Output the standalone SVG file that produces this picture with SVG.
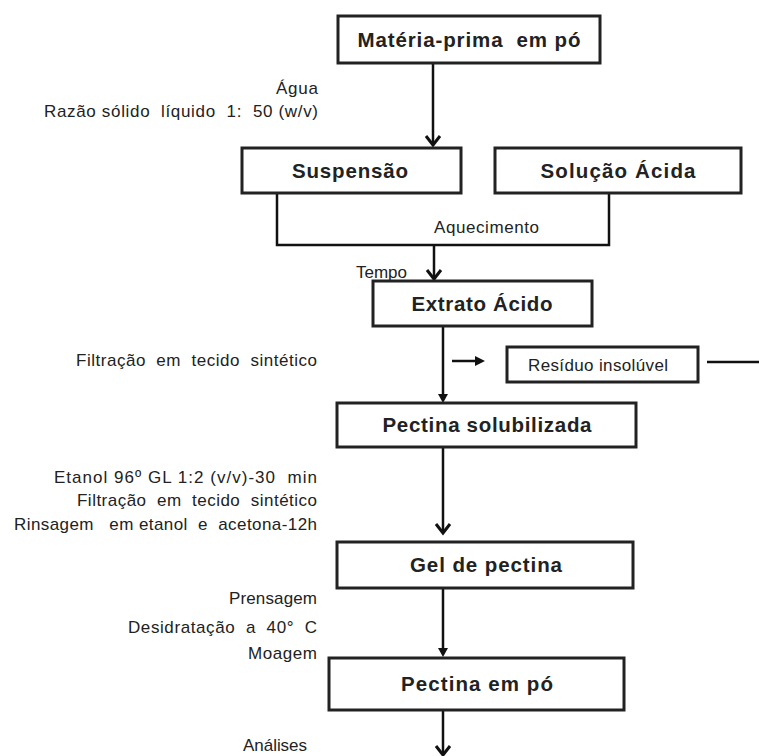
<svg xmlns="http://www.w3.org/2000/svg" width="759" height="756" viewBox="0 0 759 756">
<style>
.box{fill:#fff;stroke:#222;stroke-width:3}
.ln{fill:none;stroke:#111;stroke-width:2.5}
.chev{fill:none;stroke:#111;stroke-width:3}
.tri{fill:#111;stroke:none}
.b{font-family:"Liberation Sans",Arial,sans-serif;font-weight:bold;font-size:20.5px;fill:#222;text-anchor:middle}
.t{font-family:"Liberation Sans",Arial,sans-serif;font-size:17px;fill:#222}
.r{text-anchor:end}
</style>
<rect width="759" height="756" fill="#fff"/>
<g id="connectors">
  <line class="ln" x1="433" y1="63" x2="433" y2="145"/>
  <polyline class="chev" points="426,136 433,145 440,136"/>
  <polyline class="ln" points="277,193 277,245 609,245 609,193"/>
  <line class="ln" x1="434" y1="245" x2="434" y2="279"/>
  <polyline class="chev" points="427,270 434,279 441,270"/>
  <line class="ln" x1="443" y1="326" x2="443" y2="396"/>
  <polygon class="tri" points="438,394 448,394 443,403"/>
  <line class="ln" x1="452" y1="361" x2="477" y2="361"/>
  <polygon class="tri" points="475,356 485,361 475,366"/>
  <line class="ln" x1="707" y1="362" x2="759" y2="362"/>
  <line class="ln" x1="443" y1="447" x2="443" y2="533"/>
  <polyline class="chev" points="436,524 443,533 450,524"/>
  <line class="ln" x1="443" y1="588" x2="443" y2="650"/>
  <polygon class="tri" points="438,648 448,648 443,657"/>
  <line class="ln" x1="443" y1="710" x2="443" y2="755"/>
  <polyline class="chev" points="436,746 443,755 450,746"/>
</g>
<g id="n1"><rect class="box" x="338" y="16" width="262" height="47"/><text class="b" x="469" y="47" textLength="223" lengthAdjust="spacing" xml:space="preserve">Matéria-prima  em pó</text></g>
<g id="n2"><rect class="box" x="242" y="148" width="219" height="45"/><text class="b" x="350" y="178" textLength="116" lengthAdjust="spacing">Suspensão</text></g>
<g id="n3"><rect class="box" x="495" y="148" width="246" height="45"/><text class="b" x="618" y="178" textLength="155" lengthAdjust="spacing">Solução Ácida</text></g>
<g id="n4"><rect class="box" x="373" y="281" width="219" height="45"/><text class="b" x="482" y="311" textLength="141" lengthAdjust="spacing">Extrato Ácido</text></g>
<g id="n5"><rect class="box" x="507" y="347" width="191" height="35"/><text class="t" x="598" y="371" text-anchor="middle" textLength="140" lengthAdjust="spacing">Resíduo insolúvel</text></g>
<g id="n6"><rect class="box" x="337" y="403" width="299" height="44"/><text class="b" x="487" y="432" textLength="209" lengthAdjust="spacing">Pectina solubilizada</text></g>
<g id="n7"><rect class="box" x="337" y="542" width="296" height="46"/><text class="b" x="486" y="572" textLength="152" lengthAdjust="spacing">Gel de pectina</text></g>
<g id="n8"><rect class="box" x="329" y="658" width="295" height="52"/><text class="b" x="477" y="691" textLength="152" lengthAdjust="spacing">Pectina em pó</text></g>
<g id="labels">
  <text class="t r" x="318" y="94" textLength="42" lengthAdjust="spacing">Água</text>
  <text class="t r" x="318" y="117" textLength="274" lengthAdjust="spacing" xml:space="preserve">Razão sólido  líquido  1:  50 (w/v)</text>
  <text class="t" x="434" y="233" textLength="105" lengthAdjust="spacing">Aquecimento</text>
  <text class="t" x="356" y="278" textLength="51" lengthAdjust="spacing">Tempo</text>
  <text class="t r" x="317" y="366" textLength="241" lengthAdjust="spacing" xml:space="preserve">Filtração  em  tecido  sintético</text>
  <text class="t r" x="317" y="483" textLength="263" lengthAdjust="spacing" xml:space="preserve">Etanol 96º GL 1:2 (v/v)-30  min</text>
  <text class="t r" x="317" y="506" textLength="240" lengthAdjust="spacing" xml:space="preserve">Filtração  em  tecido  sintético</text>
  <text class="t r" x="317" y="530" textLength="303" lengthAdjust="spacing" xml:space="preserve">Rinsagem   em etanol  e  acetona-12h</text>
  <text class="t r" x="317" y="604" textLength="88" lengthAdjust="spacing">Prensagem</text>
  <text class="t r" x="317" y="633" textLength="189" lengthAdjust="spacing" xml:space="preserve">Desidratação  a  40°  C</text>
  <text class="t r" x="317" y="659" textLength="69" lengthAdjust="spacing">Moagem</text>
  <text class="t r" x="307" y="751" textLength="64" lengthAdjust="spacing">Análises</text>
</g>
</svg>
